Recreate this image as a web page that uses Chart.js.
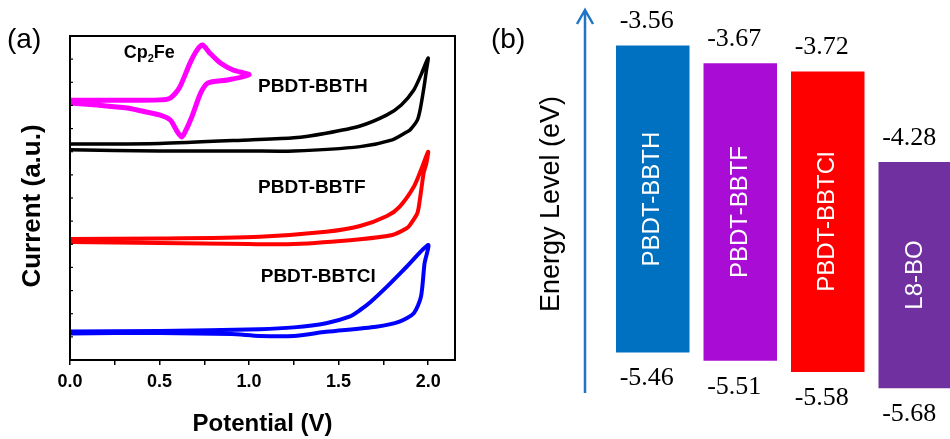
<!DOCTYPE html>
<html>
<head>
<meta charset="utf-8">
<script src="https://cdn.jsdelivr.net/npm/chart.js@4.4.1/dist/chart.umd.min.js"></script>
<style>
html, body { margin: 0; padding: 0; background: #fff; overflow: hidden; }
#wrap { position: relative; width: 950px; height: 439px; overflow: hidden; }
#cvChart { position: absolute; left: 0; top: 0; }
#levelChart { position: absolute; left: 480px; top: 0; }
</style>
</head>
<body>
<div id="wrap">
<canvas id="cvChart" width="480" height="439"></canvas>
<canvas id="levelChart" width="480" height="439"></canvas>
</div>
<script>
const SANS = "'Liberation Sans', Arial, sans-serif"
const SERIF = "'Liberation Serif', 'Times New Roman', serif"

// (a) CV scans: potential (V) and current (a.u., curves stacked with offsets)
const fcV = [0, 0.3, 0.5, 0.56, 0.61, 0.67, 0.71, 0.74, 0.78, 0.84, 0.91, 1.0,
             0.88, 0.77, 0.73, 0.68, 0.64, 0.625, 0.6, 0.56, 0.5, 0.4, 0.32, 0.15, 0]
const fcI = [11.22, 11.22, 11.24, 11.32, 11.75, 12.83, 13.40, 13.61, 13.27, 12.83, 12.53, 12.32,
             12.10, 11.97, 11.54, 10.50, 9.81, 9.64, 9.85, 10.37, 10.59, 10.76, 10.89, 11.02, 11.11]

const bbthV = [0, 0.5, 1.0, 1.25, 1.43, 1.62, 1.77, 1.85, 1.92, 1.96, 2.0,
               1.99, 1.975, 1.955, 1.94, 1.9, 1.88, 1.8, 1.62, 1.25, 1.0, 0.5, 0]
const bbthI = [9.33, 9.36, 9.51, 9.60, 9.80, 10.11, 10.59, 11.02, 11.67, 12.32, 13.05,
               12.5, 11.7, 10.8, 10.37, 9.95, 9.85, 9.51, 9.22, 9.03, 9.03, 9.03, 9.08]

const bbtfV = [0, 0.5, 1.06, 1.43, 1.62, 1.77, 1.84, 1.92, 1.96, 2.0,
               1.99, 1.975, 1.955, 1.94, 1.9, 1.88, 1.8, 1.62, 1.25, 1.0, 0.5, 0]
const bbtfI = [5.23, 5.25, 5.33, 5.54, 5.79, 6.22, 6.62, 7.49, 8.21, 9.00,
               8.5, 8.08, 7.0, 6.35, 5.85, 5.69, 5.40, 5.22, 5.01, 5.01, 5.06, 5.10]

const bbtclV = [0, 0.5, 1.06, 1.25, 1.43, 1.56, 1.62, 1.68, 1.77, 1.88, 2.0,
                1.98, 1.96, 1.92, 1.84, 1.71, 1.43, 1.25, 1.06, 0.9, 0.5, 0]
const bbtclI = [1.23, 1.25, 1.33, 1.41, 1.59, 1.87, 2.16, 2.52, 3.17, 4.03, 4.97,
                4.18, 2.74, 2.02, 1.66, 1.44, 1.22, 1.04, 1.04, 1.12, 1.17, 1.15]

// curve labels (potential, current) of their left / middle edge
const noteText = ['PBDT-BBTH', 'PBDT-BBTF', 'PBDT-BBTCl']
const noteV = [1.05, 1.05, 1.065]
const noteI = [11.80, 7.45, 3.60]

// (b) energy levels (eV)
const materials = ['PBDT-BBTH', 'PBDT-BBTF', 'PBDT-BBTCl', 'L8-BO']
const lumo = [-3.56, -3.67, -3.72, -4.28]
const homo = [-5.46, -5.51, -5.58, -5.68]
const barColors = ['#0070c0', '#a80cd5', '#ff0000', '#7030a0']

const toPts = (xs, ys) => xs.map((x, i) => ({ x: x, y: ys[i] }))

const cvLine = (label, xs, ys, color, width) => ({
    label: label,
    data: toPts(xs, ys),
    showLine: true,
    borderColor: color,
    borderWidth: width,
    pointRadius: 0,
    tension: 0.25,
    fill: false
})

const cvDecor = {
    id: 'cvDecor',
    afterDraw(chart) {
        const ctx = chart.ctx
        const a = chart.chartArea
        const xs = chart.scales.x
        const ys = chart.scales.y
        ctx.save()
        ctx.strokeStyle = '#000'
        ctx.lineWidth = 2
        ctx.strokeRect(a.left, a.top, a.right - a.left, a.bottom - a.top)
        // small inward ticks on the current axis
        ctx.lineWidth = 1.2
        for (let v = 1; v < 14; v++) {
            const py = ys.getPixelForValue(v)
            ctx.beginPath()
            ctx.moveTo(a.left, py)
            ctx.lineTo(a.left + 3, py)
            ctx.stroke()
        }
        ctx.fillStyle = '#000'
        ctx.textBaseline = 'middle'
        ctx.textAlign = 'left'
        ctx.font = 'bold 19px ' + SANS
        noteText.forEach((t, i) => {
            ctx.fillText(t, xs.getPixelForValue(noteV[i]), ys.getPixelForValue(noteI[i]))
        })
        // Cp2Fe with subscript
        let px = xs.getPixelForValue(0.30)
        const py = ys.getPixelForValue(13.27)
        ctx.font = 'bold 18px ' + SANS
        ctx.fillText('Cp', px, py)
        px += ctx.measureText('Cp').width
        ctx.font = 'bold 11px ' + SANS
        ctx.fillText('2', px, py + 6)
        px += ctx.measureText('2').width
        ctx.font = 'bold 18px ' + SANS
        ctx.fillText('Fe', px, py)
        ctx.font = '28px ' + SANS
        ctx.fillText('(a)', 7, 40)

        // current axis title
        ctx.save()
        ctx.translate(33, 206)
        ctx.rotate(-Math.PI / 2)
        ctx.textAlign = 'center'
        ctx.font = 'bold 26px ' + SANS
        ctx.fillText('Current (a.u.)', 0, 0)
        ctx.restore()
        ctx.restore()
    }
}

new Chart(document.getElementById('cvChart'), {
    type: 'scatter',
    data: {
        datasets: [
            cvLine('PBDT-BBTCl', bbtclV, bbtclI, '#0000ff', 4),
            cvLine('PBDT-BBTF', bbtfV, bbtfI, '#ff0000', 4),
            cvLine('PBDT-BBTH', bbthV, bbthI, '#000000', 3.5),
            cvLine('Cp2Fe', fcV, fcI, '#ff00ff', 5)
        ]
    },
    options: {
        responsive: false,
        animation: false,
        layout: { padding: { top: 36, right: 25, left: 0, bottom: 0 } },
        plugins: { legend: { display: false }, tooltip: { enabled: false } },
        scales: {
            x: {
                type: 'linear',
                min: 0,
                max: 2.15,
                afterFit: (s) => { s.height = 79 },
                ticks: {
                    stepSize: 0.25,
                    includeBounds: false,
                    autoSkip: false,
                    maxRotation: 0,
                    padding: 6,
                    color: '#000',
                    font: { family: SANS, size: 18, weight: 'bold' },
                    callback: (v) => Math.abs(v * 2 - Math.round(v * 2)) < 1e-6 ? v.toFixed(1) : ''
                },
                grid: { drawOnChartArea: false, tickLength: 5, color: '#000', lineWidth: 1.5 },
                border: { display: false },
                title: {
                    display: true,
                    text: 'Potential (V)',
                    color: '#000',
                    font: { family: SANS, size: 24, weight: 'bold' },
                    padding: { top: 3, bottom: 0 }
                }
            },
            y: {
                min: 0,
                max: 14,
                afterFit: (s) => { s.width = 70 },
                ticks: { display: false, stepSize: 1 },
                grid: { display: false },
                border: { display: false },
                title: { display: false }
            }
        }
    },
    plugins: [cvDecor]
})

const levelDecor = {
    id: 'levelDecor',
    afterDraw(chart) {
        const ctx = chart.ctx
        const a = chart.chartArea
        const ys = chart.scales.y
        const meta = chart.getDatasetMeta(0)
        ctx.save()
        // energy arrow
        const ax = 105
        ctx.strokeStyle = '#1f74c4'
        ctx.lineWidth = 2.5
        ctx.beginPath()
        ctx.moveTo(ax, a.bottom)
        ctx.lineTo(ax, a.top)
        ctx.moveTo(ax - 8, a.top + 14)
        ctx.lineTo(ax, a.top)
        ctx.lineTo(ax + 8, a.top + 14)
        ctx.stroke()

        ctx.fillStyle = '#000'
        ctx.textAlign = 'center'
        ctx.textBaseline = 'middle'
        ctx.font = '26px ' + SERIF
        meta.data.forEach((bar, i) => {
            const bx = bar.x - 6
            ctx.fillText(lumo[i].toFixed(2), bx, ys.getPixelForValue(lumo[i]) - 24)
            ctx.fillText(homo[i].toFixed(2), bx, ys.getPixelForValue(homo[i]) + 26)
        })

        // names written up the bars
        ctx.fillStyle = '#fff'
        ctx.font = '24px ' + SANS
        meta.data.forEach((bar, i) => {
            const mid = (ys.getPixelForValue(lumo[i]) + ys.getPixelForValue(homo[i])) / 2
            ctx.save()
            ctx.translate(bar.x, mid)
            ctx.rotate(-Math.PI / 2)
            ctx.fillText(materials[i], 0, 0)
            ctx.restore()
        })

        ctx.fillStyle = '#000'
        ctx.save()
        ctx.translate(72, 204)
        ctx.rotate(-Math.PI / 2)
        ctx.font = '27px ' + SANS
        ctx.fillText('Energy Level (eV)', 0, 0)
        ctx.restore()

        ctx.textAlign = 'left'
        ctx.font = '28px ' + SANS
        ctx.fillText('(b)', 11, 40)
        ctx.restore()
    }
}

new Chart(document.getElementById('levelChart'), {
    type: 'bar',
    data: {
        labels: materials,
        datasets: [{
            label: 'Energy level',
            data: materials.map((m, i) => [homo[i], lumo[i]]),
            backgroundColor: barColors,
            borderWidth: 0,
            categoryPercentage: 1,
            barPercentage: 0.84
        }]
    },
    options: {
        responsive: false,
        animation: false,
        layout: { padding: { top: 10, right: 1, left: 129, bottom: 46 } },
        plugins: { legend: { display: false }, tooltip: { enabled: false } },
        scales: {
            x: { display: false },
            y: { display: false, min: -5.71, max: -3.34 }
        }
    },
    plugins: [levelDecor]
})
</script>
</body>
</html>
